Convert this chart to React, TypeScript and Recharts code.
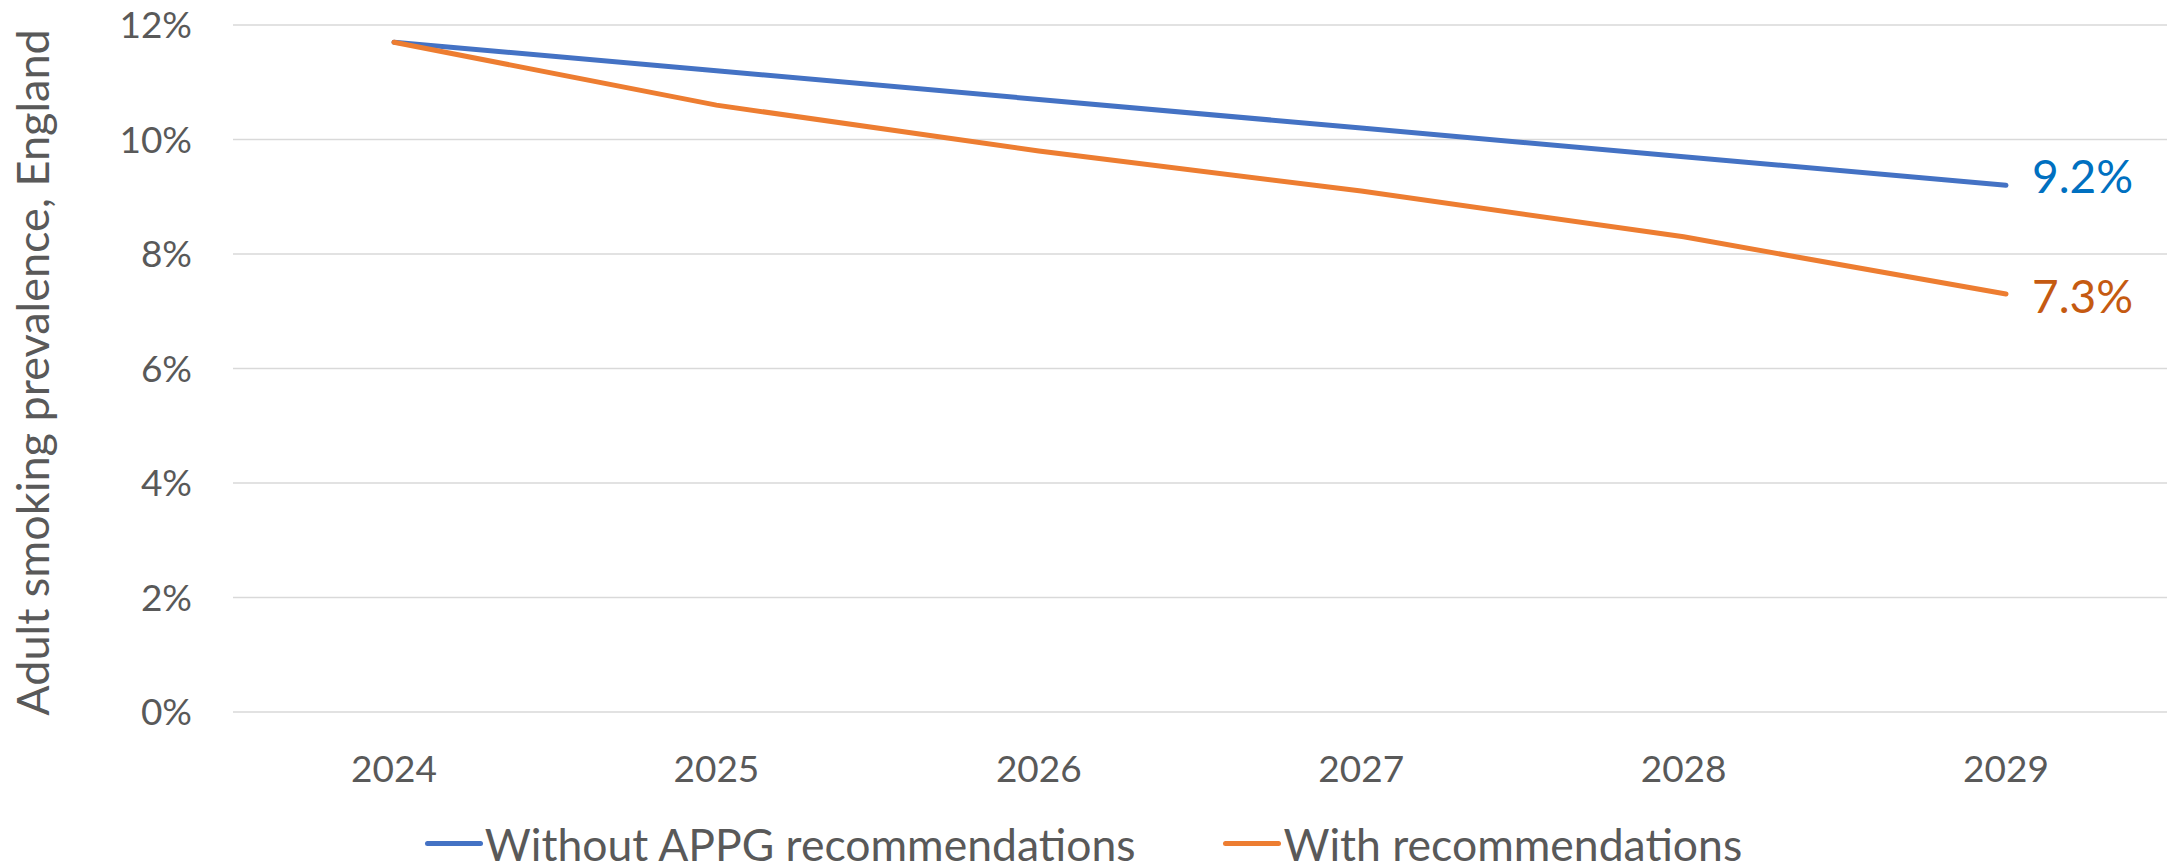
import React from "react";
import { LineChart, Line, XAxis, YAxis, CartesianGrid, Legend } from "recharts";

const years = ["2024", "2025", "2026", "2027", "2028", "2029"];
const withoutAppg = [11.7, 11.2, 10.7, 10.2, 9.7, 9.2];
const withRecs = [11.7, 10.6, 9.8, 9.1, 8.3, 7.3];
const yTicks = [0, 2, 4, 6, 8, 10, 12];

const BLUE = "#4472C4";
const ORANGE = "#ED7D31";
const TEXT = "#595959";
const FONT = "Lato, 'Open Sans', sans-serif";

const data = years.map((y, i) => ({
  year: y,
  without: withoutAppg[i],
  with: withRecs[i],
}));

function EndLabel({ x, y, index, value, color, dy }: any) {
  if (index !== years.length - 1) return null;
  return (
    <text
      x={x + 26}
      y={y + dy}
      fill={color}
      fontSize={46}
      fontFamily={FONT}
      dominantBaseline="central"
    >
      {value}%
    </text>
  );
}

const legendItems = [
  { label: "Without APPG recommendations", color: BLUE },
  { label: "With recommendations", color: ORANGE },
];

function ChartLegend() {
  return (
    <div
      style={{
        display: "flex",
        justifyContent: "center",
        alignItems: "center",
        height: 50,
        gap: 88,
        fontFamily: FONT,
        fontSize: 44.5,
        color: TEXT,
      }}
    >
      {legendItems.map((it) => (
        <div key={it.label} style={{ display: "flex", alignItems: "center" }}>
          <span
            style={{
              display: "inline-block",
              width: 58,
              height: 5,
              borderRadius: 3,
              background: it.color,
              marginRight: 2,
            }}
          />
          <span>{it.label}</span>
        </div>
      ))}
    </div>
  );
}

export default function App() {
  return (
    <div style={{ position: "absolute", left: 0, top: 0, width: 2177, height: 868, background: "#fff" }}>
      <LineChart
        width={2177}
        height={868}
        data={data}
        margin={{ top: 25, right: 10, left: 0, bottom: 0 }}
      >
        <CartesianGrid vertical={false} stroke="#D9D9D9" strokeWidth={1.5} />
        <XAxis
          dataKey="year"
          axisLine={false}
          tickLine={false}
          tickSize={0}
          tickMargin={44}
          height={106}
          padding={{ left: 161, right: 161 }}
          tick={{ fill: TEXT, fontSize: 37, fontFamily: FONT }}
        />
        <YAxis
          domain={[0, 12]}
          ticks={yTicks}
          axisLine={false}
          tickLine={false}
          tickSize={0}
          tickMargin={41}
          width={233}
          tickFormatter={(v) => `${v}%`}
          tick={{ fill: TEXT, fontSize: 37, fontFamily: FONT }}
          label={{
            value: "Adult smoking prevalence, England",
            angle: -90,
            position: "insideLeft",
            offset: 0,
            dx: 33,
            dy: 4,
            style: { fill: TEXT, fontSize: 45, fontFamily: FONT, textAnchor: "middle" },
          }}
        />
        <Legend verticalAlign="bottom" height={50} content={() => <ChartLegend />} />
        <Line
          dataKey="without"
          name="Without APPG recommendations"
          stroke={BLUE}
          strokeWidth={5}
          strokeLinecap="round"
          dot={false}
          isAnimationActive={false}
          label={(p: any) => <EndLabel key={`b${p.index}`} {...p} color="#0070C0" dy={-10} />}
        />
        <Line
          dataKey="with"
          name="With recommendations"
          stroke={ORANGE}
          strokeWidth={5}
          strokeLinecap="round"
          dot={false}
          isAnimationActive={false}
          label={(p: any) => <EndLabel key={`o${p.index}`} {...p} color="#C55A11" dy={1} />}
        />
      </LineChart>
    </div>
  );
}
